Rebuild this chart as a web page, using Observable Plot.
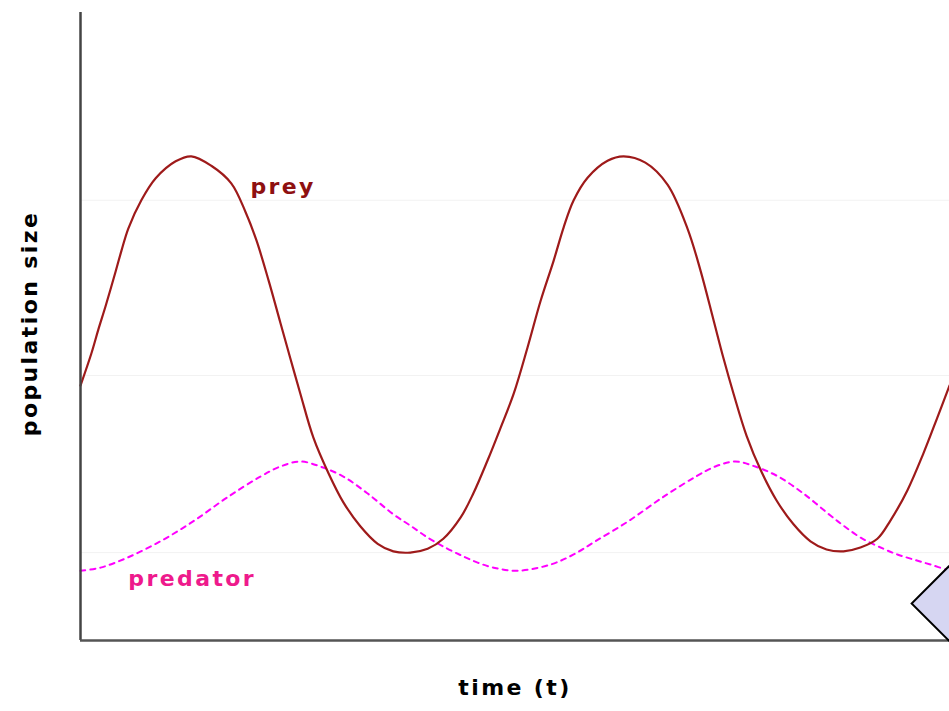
<!DOCTYPE html>
<html>
<head>
<meta charset="utf-8">
<script src="https://cdn.jsdelivr.net/npm/d3@7"></script>
<script src="https://cdn.jsdelivr.net/npm/@observablehq/plot@0.6"></script>
<style>
  html, body { margin: 0; padding: 0; background: #fff; }
  #chart svg { display: block; }
</style>
</head>
<body>
<div id="chart"></div>
<script>
// time (t) values and population sizes
const preyT = [0, 0.25, 0.41, 0.58, 0.81, 0.94, 1.10, 1.40, 1.73, 2.19, 2.55, 3.01, 3.47, 3.80, 4.05, 4.33, 4.60, 4.83, 5.06, 5.36, 5.71, 6.05, 6.44, 6.84, 7.20, 7.59, 7.99, 8.35, 8.75, 9.04, 9.37, 9.67, 9.97, 10.29, 10.59, 10.89, 11.12, 11.35, 11.67, 12.13, 12.50, 13.00, 13.51, 13.97, 14.27, 14.57, 14.80, 15.03, 15.33, 15.67, 16.02, 16.41, 16.80, 17.17, 17.56, 17.95, 18.34, 18.64, 19.03, 19.40, 19.72, 20.0];
const preyN = [40.6, 45.7, 49.5, 53.3, 58.8, 62.0, 65.6, 70.1, 73.6, 76.3, 77.1, 75.6, 72.8, 68.2, 63.7, 57.3, 50.6, 44.9, 39.3, 32.3, 26.6, 22.0, 18.2, 15.4, 14.2, 14.0, 14.6, 16.2, 19.6, 23.4, 28.7, 33.9, 39.3, 46.7, 54.1, 60.5, 65.8, 70.1, 73.7, 76.4, 77.1, 76.1, 72.6, 65.6, 58.9, 51.0, 44.9, 39.3, 32.6, 26.9, 22.3, 18.5, 15.8, 14.5, 14.2, 14.8, 16.2, 19.1, 23.9, 29.8, 35.5, 40.6];

const predT = [0, 0.46, 1.08, 1.84, 2.60, 3.38, 4.14, 4.60, 5.06, 5.52, 6.05, 6.61, 7.20, 7.59, 7.99, 8.45, 8.81, 9.14, 9.51, 10.06, 10.82, 11.35, 11.85, 12.61, 13.40, 14.16, 14.61, 15.07, 15.53, 16.06, 16.64, 17.26, 17.56, 17.95, 18.48, 18.80, 19.17, 19.56, 20.0];
const predN = [11.1, 11.6, 13.2, 15.8, 19.0, 22.8, 26.1, 27.7, 28.5, 27.7, 26.1, 23.4, 20.1, 18.3, 16.4, 14.6, 13.4, 12.4, 11.6, 11.1, 12.1, 13.7, 15.8, 19.0, 22.8, 26.1, 27.7, 28.5, 27.7, 26.1, 23.4, 19.9, 18.3, 16.4, 14.6, 13.7, 12.9, 12.1, 11.1];

// faint guide levels on the population axis
const guideLevels = [70.1, 42.2, 14.0];

// series labels
const seriesLabels = ["prey", "predator"];
const labelT = [3.91, 1.10];
const labelN = [72.3, 9.8];

// corner marker
const markerT = [19.98];
const markerN = [5.9];

const prey = preyT.map((t, i) => ({t, n: preyN[i]}));
const predator = predT.map((t, i) => ({t, n: predN[i]}));
const labels = seriesLabels.map((s, i) => ({s, t: labelT[i], n: labelN[i]}));
const marker = markerT.map((t, i) => ({t, n: markerN[i]}));

const font = "'DejaVu Sans', sans-serif";

const chart = Plot.plot({
  width: 949,
  height: 711,
  marginLeft: 80,
  marginRight: 0,
  marginTop: 12,
  marginBottom: 71,
  style: {fontFamily: font, background: "#fff", overflow: "visible"},
  x: {domain: [0, 20], axis: null},
  y: {domain: [0, 100], axis: null},
  marks: [
    Plot.ruleY(guideLevels, {stroke: "#f2f2f2", strokeWidth: 1}),
    Plot.line(predator, {x: "t", y: "n", stroke: "#ff00ff", strokeWidth: 2, strokeDasharray: "5,5", curve: "catmull-rom"}),
    Plot.line(prey, {x: "t", y: "n", stroke: "#9e1a1a", strokeWidth: 2.2, curve: "catmull-rom"}),
    Plot.ruleX([0], {stroke: "#444", strokeWidth: 2.5}),
    Plot.ruleY([0], {stroke: "#555", strokeWidth: 2.5}),
    Plot.dot(marker, {x: "t", y: "n", symbol: "square", r: 29.5, rotate: 45, fill: "#d6d6f2", stroke: "#000", strokeWidth: 2}),
    Plot.text(labels, {x: "t", y: "n", text: "s", textAnchor: "start", fontSize: 22, fontWeight: "bold",
      fill: d => d.s === "prey" ? "#8e1010" : "#ee1a8c"}),
    Plot.text(["time (t)"], {frameAnchor: "bottom", dy: 54, fontSize: 22, fontWeight: "bold", fill: "#000", text: d => d}),
    Plot.text(["population size"], {frameAnchor: "left", textAnchor: "middle", dx: -51, dy: -3, rotate: -90, fontSize: 22, fontWeight: "bold", fill: "#000", text: d => d})
  ]
});

// letter spacing for text marks
chart.querySelectorAll("text").forEach(el => el.setAttribute("letter-spacing", "2.4"));
document.getElementById("chart").appendChild(chart);
</script>
</body>
</html>
